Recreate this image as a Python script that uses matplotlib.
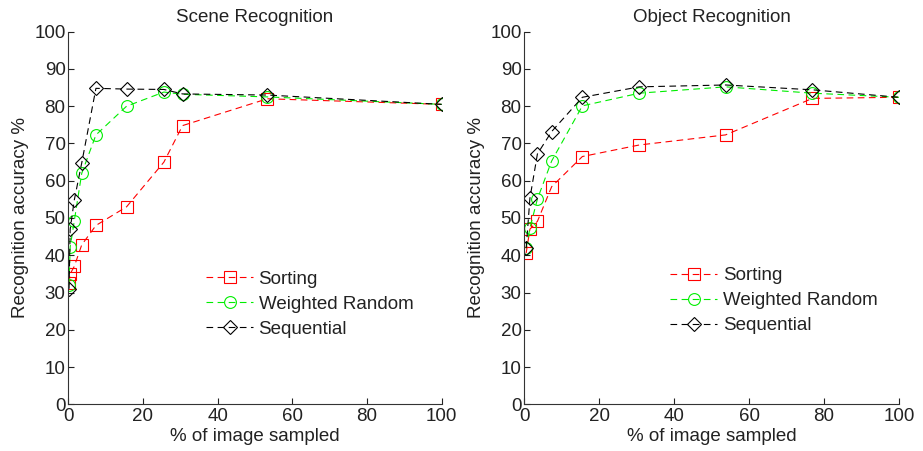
import numpy as np
import matplotlib.pyplot as plt

plt.rcParams['font.family'] = ['Liberation Sans', 'DejaVu Sans']

#%% data

# Scene Recognition
scene_x = [0.2, 0.5, 1.6, 3.6, 7.4, 15.6, 25.6, 30.6, 53.3, 100]
scene_sorting = [32.5, 35.0, 37.0, 42.8, 48.0, 53.0, 65.0, 74.8, 82.0, 80.5]
scene_weighted = [32.0, 42.2, 49.2, 62.0, 72.3, 80.0, 83.8, 83.2, 82.5, 80.5]
scene_sequential = [31.0, 47.0, 54.8, 64.8, 84.8, 84.6, 84.5, 83.3, 83.0, 80.5]

# Object Recognition
object_x = [0.5, 1.5, 3.5, 7.3, 15.5, 30.7, 53.7, 76.9, 100]
object_sorting = [40.6, 47.0, 49.1, 58.4, 66.5, 69.6, 72.3, 82.1, 82.4]
object_weighted = [41.9, 47.3, 55.1, 65.3, 80.1, 83.5, 85.2, 83.5, 82.4]
object_sequential = [41.9, 55.3, 67.2, 73.2, 82.4, 85.2, 85.7, 84.4, 82.4]

series_names = ['Sorting', 'Weighted Random', 'Sequential']

#%% plot
fig = plt.figure(figsize=(9.23, 4.51), dpi=100)
W, H = 923, 451
fs = 13.5
txt = '#222222'

def make_axes(x0, x1, y0, y1):
    return fig.add_axes([x0 / W, 1 - y0 / H, (x1 - x0) / W, (y0 - y1) / H])

ax_l = make_axes(68.3, 441.7, 404.3, 31.7)
ax_r = make_axes(524.3, 899.0, 404.3, 31.7)

styles = [dict(color='#ff0000', marker='s'),
          dict(color='#00ee00', marker='o'),
          dict(color='k', marker='D', markersize=7)]

def draw(ax, x, ys, title, leg_anchor):
    for y, st, name in zip(ys, styles, series_names):
        ms = st.get('markersize', 8.5)
        ax.plot(x, y, linestyle='--', dashes=(6, 4), linewidth=0.8,
                color=st['color'], marker=st['marker'], markersize=ms,
                markerfacecolor='none', markeredgecolor=st['color'],
                markeredgewidth=0.8, label=name)
    ax.set_xlim(0, 100)
    ax.set_ylim(0, 100)
    ax.set_xticks(np.arange(0, 101, 20))
    ax.set_yticks(np.arange(0, 101, 10))
    ax.spines['top'].set_visible(False)
    ax.spines['right'].set_visible(False)
    for s in ['left', 'bottom']:
        ax.spines[s].set_color('#333333')
        ax.spines[s].set_linewidth(0.8)
    ax.tick_params(direction='in', length=4, labelsize=fs, colors=txt, width=0.8, pad=2)
    ax.tick_params(axis='x', pad=3)
    ax.set_title(title, fontsize=fs, color=txt, pad=7)
    ax.set_xlabel('% of image sampled', fontsize=fs, color=txt, labelpad=2)
    ax.set_ylabel('Recognition accuracy %', fontsize=fs, color=txt, labelpad=4)
    leg = ax.legend(loc='upper left', bbox_to_anchor=leg_anchor, frameon=False,
                    fontsize=fs, handlelength=2.5, handletextpad=0.3,
                    labelspacing=0.42, borderpad=0, borderaxespad=0)
    for t in leg.get_texts():
        t.set_color(txt)

draw(ax_l, scene_x, [scene_sorting, scene_weighted, scene_sequential],
     'Scene Recognition', (0.369, 0.358))
draw(ax_r, object_x, [object_sorting, object_weighted, object_sequential],
     'Object Recognition', (0.39, 0.368))

plt.savefig('out.png', dpi=100)
